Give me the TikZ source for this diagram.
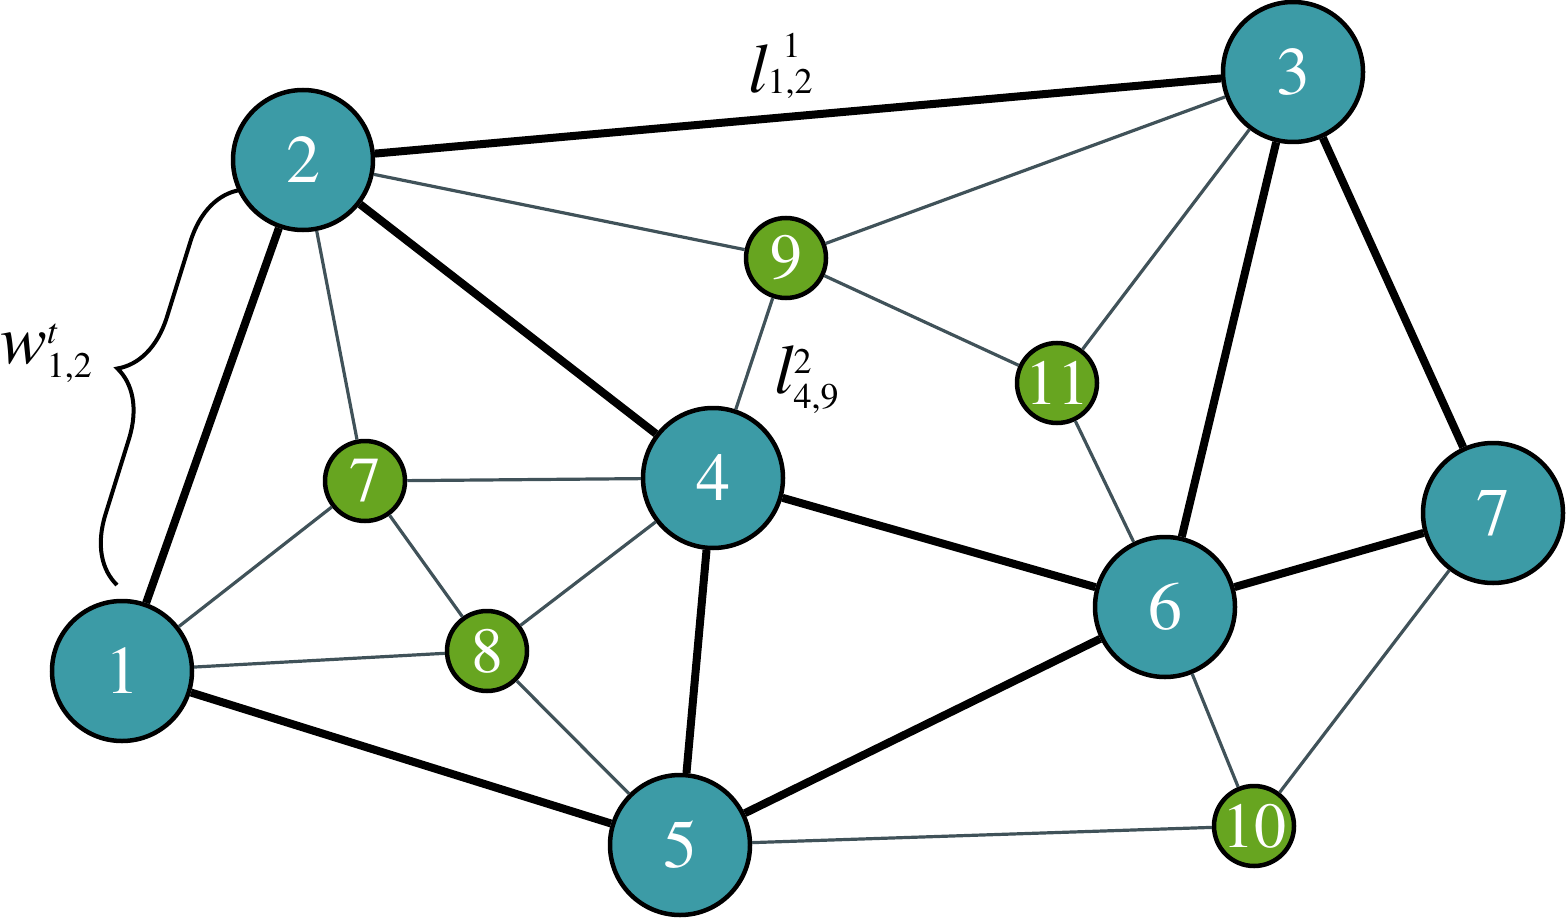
\documentclass[tikz,border=0pt]{standalone}
\usepackage{fontspec}
\newfontfamily\timesfont{texgyretermes}[Extension=.otf, UprightFont=*-regular, ItalicFont=*-italic, BoldFont=*-bold]
\usetikzlibrary{decorations.pathreplacing}
\definecolor{tealfill}{HTML}{3C9BA6}
\definecolor{greenfill}{HTML}{67A520}
\definecolor{edgegray}{HTML}{405259}
\newcommand\scrfont{\timesfont\fontsize{36}{36}\selectfont}
\newcommand\mylab[6]{\timesfont\textit{#1}\rlap{\kern#6\raisebox{#4}{\scrfont #2}}\raisebox{-#5}{\scrfont #3}}
\tikzset{
  bignode/.style={circle, draw=black, line width=4.5pt, fill=tealfill, minimum size=140pt, inner sep=0pt, text=white, font=\timesfont\fontsize{68}{68}\selectfont},
  smallnode/.style={circle, draw=black, line width=4.5pt, fill=greenfill, minimum size=80pt, inner sep=0pt, text=white, font=\timesfont\fontsize{64}{64}\selectfont},
  heavy/.style={line width=8pt, black},
  light/.style={line width=3.2pt, edgegray},
  labeltext/.style={inner sep=0pt, anchor=base west, font=\timesfont\fontsize{70}{70}\selectfont},
  bracestyle/.style={line width=4pt, decorate, decoration={brace, amplitude=64pt, aspect=0.5}},
}
\begin{document}
\begin{tikzpicture}[x=1pt,y=-1pt]
\useasboundingbox (0,0) rectangle (1568,920);
% nodes
\node[bignode] (n1) at (122,671) {1};
\node[bignode] (n2) at (303,160) {2};
\node[bignode] (n3) at (1293,72) {3};
\node[bignode] (n4) at (713,478) {4};
\node[bignode] (n5) at (680,845) {5};
\node[bignode] (n6) at (1165,607) {6};
\node[bignode] (n7) at (1493,513) {7};
\node[smallnode] (s7) at (365,481) {7};
\node[smallnode] (s8) at (487,651) {8};
\node[smallnode] (s9) at (786,258) {9};
\node[smallnode] (s10) at (1254,826) {10};
\node[smallnode] (s11) at (1057,383) {11};
% edges
\draw[light] (n2) -- (s9);
\draw[light] (n3) -- (s9);
\draw[light] (n3) -- (s11);
\draw[light] (s9) -- (s11);
\draw[light] (s9) -- (n4);
\draw[light] (s11) -- (n6);
\draw[light] (n2) -- (s7);
\draw[light] (s7) -- (n4);
\draw[light] (s7) -- (n1);
\draw[light] (s7) -- (s8);
\draw[light] (n1) -- (s8);
\draw[light] (s8) -- (n4);
\draw[light] (s8) -- (n5);
\draw[light] (n5) -- (s10);
\draw[light] (n6) -- (s10);
\draw[light] (n7) -- (s10);
\draw[heavy] (n1) -- (n2);
\draw[heavy] (n2) -- (n3);
\draw[heavy] (n2) -- (n4);
\draw[heavy] (n1) -- (n5);
\draw[heavy] (n4) -- (n5);
\draw[heavy] (n4) -- (n6);
\draw[heavy] (n5) -- (n6);
\draw[heavy] (n3) -- (n6);
\draw[heavy] (n3) -- (n7);
\draw[heavy] (n6) -- (n7);
% labels
\node[labeltext] (l12) at (748,93) {\mylab{l}{1}{1,2}{35pt}{1pt}{15pt}};
\node[labeltext] (l49) at (774,393) {\mylab{l}{2}{4,9}{20pt}{15pt}{0pt}};
\node[labeltext] (w12) at (0,363) {\mylab{w}{\textit{t}}{1,2}{20pt}{14pt}{0pt}};
% brace
\coordinate (bb) at (117,585);
\coordinate (bt) at (240,190);
\draw[bracestyle] (bb) -- (bt);
\end{tikzpicture}
\end{document}
